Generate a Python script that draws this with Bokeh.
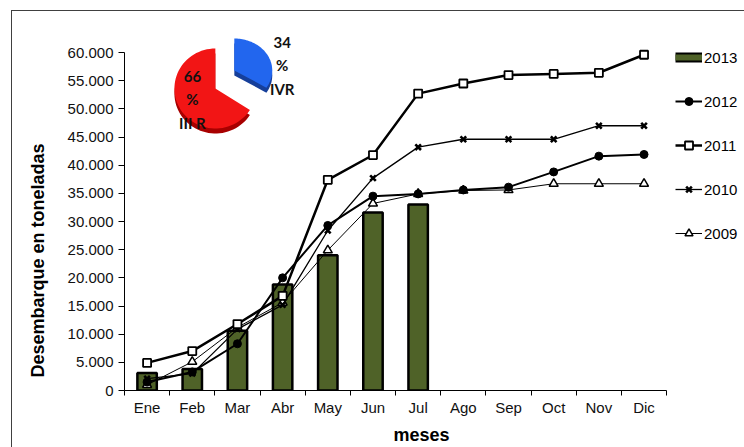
import math
from bokeh.plotting import figure
from bokeh.models import (Range1d, FixedTicker, Legend, LegendItem, Title,
                          ColumnDataSource)
from bokeh.core.properties import value
from bokeh.embed import file_html
from bokeh.resources import INLINE

# ---------------- data ----------------
months = ["Ene", "Feb", "Mar", "Abr", "May", "Jun", "Jul", "Ago", "Sep", "Oct", "Nov", "Dic"]
d2013 = [3100, 3800, 10600, 18800, 24000, 31600, 33000]
d2012 = [1500, 3300, 8300, 20000, 29300, 34500, 34900, 35600, 36100, 38800, 41600, 41900]
d2011 = [4900, 7000, 11800, 16800, 37400, 41800, 52700, 54500, 56000, 56200, 56400, 59600]
d2010 = [2100, 3000, 10900, 15200, 28400, 37700, 43200, 44600, 44600, 44600, 47000, 47000]
d2009 = [1000, 5100, 11200, 15600, 24900, 33200, 34900, 35500, 35600, 36700, 36700, 36700]
y_ticks = list(range(0, 60001, 5000))
pie_names = ["IVR", "III R"]
pie_pct = [34, 66]

FONT = "Liberation Sans"
W, H = 733, 437            # element size incl. 1px top/left border
CW, CH = W - 1, H - 1      # canvas size
ML, MR, MT, MB = 110, 0, 15, 57
FW, FH = CW - ML - MR, CH - MT - MB
CAT_PX = 543 / 12.0
x_end = 0.5 + FW / CAT_PX
y_end = 60000 * FH / 338.0

p = figure(width=W, height=H, x_range=Range1d(0.5, x_end), y_range=Range1d(0, y_end),
           output_backend="svg", toolbar_location=None,
           min_border_left=ML, min_border_right=MR, min_border_top=MT, min_border_bottom=MB)
p.margin = (10, 0, 0, 11)
p.styles = {"border-top": "1px solid #404040", "border-left": "1px solid #404040",
            "box-sizing": "border-box"}
p.extra_x_ranges = {"px": Range1d(0, FW)}
p.extra_y_ranges = {"py": Range1d(0, FH)}
p.outline_line_color = None
p.xgrid.visible = False
p.ygrid.visible = False
p.background_fill_color = "white"
p.border_fill_color = "white"

x_all = list(range(1, 13))
x13 = x_all[:len(d2013)]

# bars 2013
p.vbar(x=x13, top=d2013, width=0.43, fill_color="#4F6228",
       line_color="black", line_width=2.5)

# lines
r09l = p.line(x_all, d2009, line_color="black", line_width=1)
r09m = p.scatter(x_all, d2009, marker="triangle", size=9, fill_color="white",
                 line_color="black", line_width=1.5)
r10l = p.line(x_all, d2010, line_color="black", line_width=1.3)
r10m = p.scatter(x_all, d2010, marker="x", size=8, line_color="black", line_width=2.6)
r12l = p.line(x_all, d2012, line_color="black", line_width=2)
r12m = p.scatter(x_all, d2012, marker="circle", size=8, fill_color="black", line_color="black")
r11l = p.line(x_all, d2011, line_color="black", line_width=2.5)
r11m = p.scatter(x_all, d2011, marker="square", size=8, fill_color="white",
                 line_color="black", line_width=1.8)

# legend swatch for the bars: hidden renderers, only drawn inside the legend
sw1 = p.line(x13, d2013, line_color="black", line_width=10, visible=False)
sw2 = p.line(x13, d2013, line_color="#4F6228", line_width=6, visible=False)

legend = Legend(items=[
    LegendItem(label="2013", renderers=[sw1, sw2]),
    LegendItem(label="2012", renderers=[r12l, r12m]),
    LegendItem(label="2011", renderers=[r11l, r11m]),
    LegendItem(label="2010", renderers=[r10l, r10m]),
    LegendItem(label="2009", renderers=[r09l, r09m]),
], location=(551, 147))
legend.label_text_font = FONT
legend.label_text_font_size = "15px"
legend.label_text_color = "black"
legend.glyph_width = 27
legend.glyph_height = 20
legend.label_height = 20
legend.spacing = 24
legend.padding = 0
legend.margin = 0
legend.label_standoff = 2
legend.border_line_color = None
legend.background_fill_alpha = 0
p.add_layout(legend)

# main axes
p.yaxis.bounds = (0, 60000)
p.yaxis.ticker = FixedTicker(ticks=y_ticks)
p.yaxis.major_label_overrides = {t: f"{t:,}".replace(",", ".") for t in y_ticks}
p.yaxis.major_tick_out = 6
p.yaxis.major_tick_in = 0
p.yaxis.minor_tick_line_color = None
p.yaxis.major_label_standoff = 5
p.xaxis.bounds = (0.5, 12.5)
p.xaxis.ticker = FixedTicker(ticks=x_all, minor_ticks=[i + 0.5 for i in range(0, 13)])
p.xaxis.major_label_overrides = {i + 1: m for i, m in enumerate(months)}
p.xaxis.major_tick_out = 0
p.xaxis.major_tick_in = 0
p.xaxis.minor_tick_out = 5
p.xaxis.minor_tick_in = 0
p.xaxis.minor_tick_line_color = "black"
p.xaxis.major_label_standoff = 3
for ax in (p.xaxis, p.yaxis):
    ax.axis_line_color = "black"
    ax.major_tick_line_color = "black"
    ax.major_label_text_font = FONT
    ax.major_label_text_font_size = "15px"
    ax.major_label_text_color = "#111111"

# axis titles
p.add_layout(Title(text="Desembarque en toneladas", align="left", offset=13,
                   vertical_align="top", standoff=30, text_font=FONT,
                   text_font_size="18px", text_font_style="bold",
                   text_color="black"), "left")
p.add_layout(Title(text="meses", align="left", offset=269, vertical_align="bottom",
                   standoff=8, text_font=FONT, text_font_size="18px",
                   text_font_style="bold", text_color="black"), "below")

# ---------------- pie (3D-ish) ----------------
def wedge_pts(cx, cy, rx, ry, a0, a1, n=60):
    xs, ys = [cx], [cy]
    for i in range(n + 1):
        a = math.radians(a0 + (a1 - a0) * i / n)
        xs.append(cx + rx * math.cos(a))
        ys.append(cy + ry * math.sin(a))
    return xs, ys

total = sum(pie_pct)
blue_a0 = 90.0
blue_a1 = 90.0 - 360.0 * pie_pct[0] / total
red_a0 = blue_a1
red_a1 = 90.0 - 360.0

pie_specs = [
    ((232 - 122, 390 - 70), 38, 32, (blue_a0, blue_a1), "#2266EE", "#163F9A"),
    ((213 - 122, 390 - 88), 41, 40, (red_a0, red_a1), "#F21515", "#A80000"),
]
for (cx, cy), rx, ry, (a0, a1), ctop, cside in pie_specs:
    xs, ys = wedge_pts(cx, cy, rx, ry, a0, a1)
    p.patch(xs, [y - 5 for y in ys], fill_color=cside, line_color=None,
            x_range_name="px", y_range_name="py")
    p.patch(xs, ys, fill_color=ctop, line_color=None,
            x_range_name="px", y_range_name="py")

pie_src = ColumnDataSource(dict(
    x=[280 - 122, 190 - 122],
    y=[390 - 65, 390 - 99],
    t=[f"{v}\n%\n{n}" for v, n in zip(pie_pct, pie_names)],
))
p.text(x="x", y="y", text="t", source=pie_src, x_range_name="px", y_range_name="py",
       text_align="center", text_baseline="middle", text_font=value("Lato"),
       text_font_size="15px", text_font_style="bold", text_color="#111111",
       text_line_height=1.3)

open("out.html", "w").write(file_html(p, INLINE))
